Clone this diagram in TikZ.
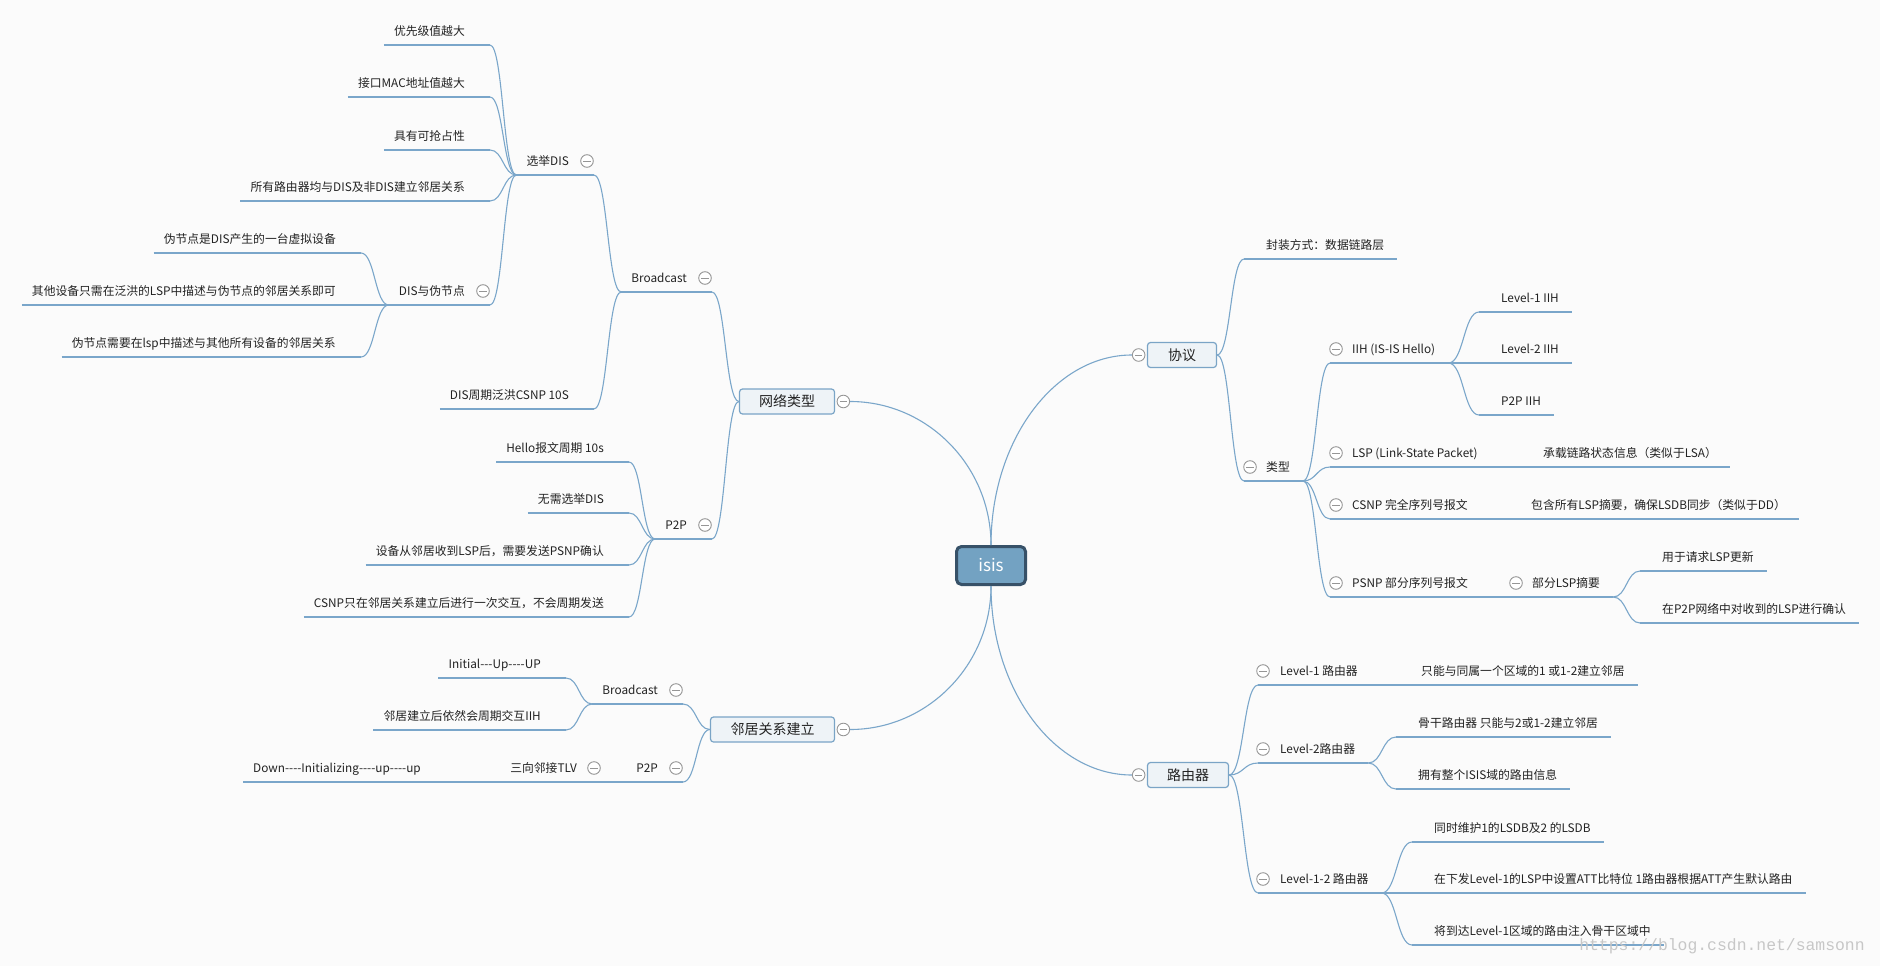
\documentclass[tikz,border=0pt]{standalone}
\usepackage{fontspec}
\newfontfamily\cnfont{Noto Sans CJK SC}
\newfontfamily\markfont{Liberation Mono}
\usetikzlibrary{calc, positioning}

\definecolor{bgc}{RGB}{251,251,251}
\definecolor{linec}{RGB}{122,166,202}
\definecolor{boxfill}{RGB}{238,243,247}
\definecolor{boxline}{RGB}{122,164,198}
\definecolor{rootfill}{RGB}{115,162,194}
\definecolor{rootline}{RGB}{55,81,104}
\definecolor{togc}{RGB}{150,150,150}
\definecolor{txt}{RGB}{34,34,34}

\begin{document}
\begin{tikzpicture}[
        x=1pt, y=-1pt,
        root/.style={
            rectangle, rounded corners=5pt, draw=rootline, line width=3pt, fill=rootfill,
            text=white, minimum width=69pt, minimum height=38pt,
            font=\cnfont\fontsize{17}{20}\selectfont
        },
        mainbox/.style={
            rectangle, rounded corners=3pt, draw=boxline, line width=1.2pt, fill=boxfill,
            text=txt, minimum height=25pt, inner sep=0pt,
            font=\cnfont\fontsize{14}{16}\selectfont
        },
        uline/.style={draw=linec, line width=1.1pt},
        topic/.style={
            inner xsep=0pt, inner ysep=6pt, text height=10pt, text depth=3pt,
            text=txt, font=\cnfont\fontsize{11.8}{14}\selectfont,
            append after command={(\tikzlastnode.south west) edge[uline] (\tikzlastnode.south east)}
        },
        ltop/.style={topic, anchor=south east,
            execute at begin node={\hspace*{10pt}}, execute at end node={\hspace*{25pt}}},
        rtop/.style={topic, anchor=south west,
            execute at begin node={\hspace*{22pt}}, execute at end node={\hspace*{13pt}}},
        tog/.style={
            circle, draw=togc, line width=0.9pt, fill=white, minimum size=12.6pt, inner sep=0pt,
            path picture={\draw[togc, line width=0.9pt]
                ([xshift=-3.6pt]path picture bounding box.center) -- ([xshift=3.6pt]path picture bounding box.center);}
        },
        link/.style={uline, to path={let \p1=(\tikztostart), \p2=(\tikztotarget) in
            .. controls ({0.5*\x1+0.5*\x2},\y1) and ({0.5*\x1+0.5*\x2},\y2) .. (\tikztotarget)}},
        trunk/.style={uline, to path={let \p1=(\tikztostart), \p2=(\tikztotarget) in
            .. controls (\x1,{\y1+0.55*(\y2-\y1)}) and ({\x2+0.55*(\x1-\x2)},\y2) .. (\tikztotarget)}},
        wmark/.style={text=black!22, font=\markfont\fontsize{16.4}{18}\selectfont, inner sep=0pt}
    ]

    \fill[bgc] (0,0) rectangle (1880,966);
    \useasboundingbox (0,0) rectangle (1880,966);

    \node [root] (isis) at (991,565.5) {isis};

    \node [mainbox, minimum width=95pt] (net) at (787,401.5) {网络类型};
    \node [mainbox, minimum width=124pt] (nbr) at (772.5,729.5) {邻居关系建立};
    \node [mainbox, minimum width=69pt] (proto) at (1182,355) {协议};
    \node [mainbox, minimum width=81pt] (rtr) at (1188,775) {路由器};

    \node [tog, right=1.5pt of net] (t-net) {};
    \node [tog, right=1.5pt of nbr] (t-nbr) {};
    \node [tog, left=1.5pt of proto] (t-proto) {};
    \node [tog, left=1.5pt of rtr] (t-rtr) {};

    % network types
    \node [ltop] (bc) at (712,292) {Broadcast};
    \node [ltop] (p2p) at (712,539) {P2P};
    \node [ltop] (sel) at (594,175) {选举DIS};
    \node [ltop] (csnp10) at (594,409) {DIS周期泛洪CSNP 10S};
    \node [ltop] (s1) at (490,45) {优先级值越大};
    \node [ltop] (s2) at (490,97) {接口MAC地址值越大};
    \node [ltop] (s3) at (490,150) {具有可抢占性};
    \node [ltop] (s4) at (490,201) {所有路由器均与DIS及非DIS建立邻居关系};
    \node [ltop] (pn) at (490,305) {DIS与伪节点};
    \node [ltop] (pn1) at (361,253) {伪节点是DIS产生的一台虚拟设备};
    \node [ltop] (pn2) at (361,305) {其他设备只需在泛洪的LSP中描述与伪节点的邻居关系即可};
    \node [ltop] (pn3) at (361,357) {伪节点需要在lsp中描述与其他所有设备的邻居关系};
    \node [ltop] (h1) at (629,462) {Hello报文周期 10s};
    \node [ltop] (h2) at (629,513) {无需选举DIS};
    \node [ltop] (h3) at (629,565) {设备从邻居收到LSP后，需要发送PSNP确认};
    \node [ltop] (h4) at (629,617) {CSNP只在邻居关系建立后进行一次交互，不会周期发送};

    % neighbour setup
    \node [ltop] (nbc) at (683,704) {Broadcast};
    \node [ltop] (nb1) at (566,678) {Initial---Up----UP};
    \node [ltop] (nb2) at (566,730) {邻居建立后依然会周期交互IIH};
    \node [ltop] (np2p) at (683,782) {P2P};
    \node [ltop] (tlv) at (602,782) {三向邻接TLV};
    \node [ltop] (down) at (446,782) {Down----Initializing----up----up};

    % protocol
    \node [rtop] (enc) at (1244,259) {封装方式：数据链路层};
    \node [rtop] (typ) at (1244,481) {类型};
    \node [rtop] (iih) at (1330,363) {IIH (IS-IS Hello)};
    \node [rtop] (lsp) at (1330,467) {LSP (Link-State Packet)};
    \node [rtop] (csnp) at (1330,519) {CSNP 完全序列号报文};
    \node [rtop] (psnp) at (1330,597) {PSNP 部分序列号报文};
    \node [rtop] (i1) at (1479,312) {Level-1 IIH};
    \node [rtop] (i2) at (1479,363) {Level-2 IIH};
    \node [rtop] (i3) at (1479,415) {P2P IIH};
    \node [rtop] (lsp1) at (1521,467) {承载链路状态信息（类似于LSA）};
    \node [rtop] (csnp1) at (1509,519) {包含所有LSP摘要，确保LSDB同步（类似于DD）};
    \node [rtop] (part) at (1510,597) {部分LSP摘要};
    \node [rtop] (pt1) at (1640,571) {用于请求LSP更新};
    \node [rtop] (pt2) at (1640,623) {在P2P网络中对收到的LSP进行确认};

    % routers
    \node [rtop] (r1) at (1258,685) {Level-1 路由器};
    \node [rtop] (r2) at (1258,763) {Level-2路由器};
    \node [rtop] (r3) at (1258,893) {Level-1-2 路由器};
    \node [rtop] (r1a) at (1399,685) {只能与同属一个区域的1 或1-2建立邻居};
    \node [rtop] (r2a) at (1396,737) {骨干路由器 只能与2或1-2建立邻居};
    \node [rtop] (r2b) at (1396,789) {拥有整个ISIS域的路由信息};
    \node [rtop] (r3a) at (1412,842) {同时维护1的LSDB及2 的LSDB};
    \node [rtop] (r3b) at (1412,893) {在下发Level-1的LSP中设置ATT比特位 1路由器根据ATT产生默认路由};
    \node [rtop] (r3c) at (1412,945) {将到达Level-1区域的路由注入骨干区域中};

    \node [tog] (t-bc) at ([xshift=-7pt,yshift=14pt]bc.south east) {};
    \node [tog] (t-p2p) at ([xshift=-7pt,yshift=14pt]p2p.south east) {};
    \node [tog] (t-sel) at ([xshift=-7pt,yshift=14pt]sel.south east) {};
    \node [tog] (t-pn) at ([xshift=-7pt,yshift=14pt]pn.south east) {};
    \node [tog] (t-nbc) at ([xshift=-7pt,yshift=14pt]nbc.south east) {};
    \node [tog] (t-np2p) at ([xshift=-7pt,yshift=14pt]np2p.south east) {};
    \node [tog] (t-tlv) at ([xshift=-8pt,yshift=14pt]tlv.south east) {};
    \node [tog] (t-typ) at ([xshift=6pt,yshift=14pt]typ.south west) {};
    \node [tog] (t-iih) at ([xshift=6pt,yshift=14pt]iih.south west) {};
    \node [tog] (t-lsp) at ([xshift=6pt,yshift=14pt]lsp.south west) {};
    \node [tog] (t-csnp) at ([xshift=6pt,yshift=14pt]csnp.south west) {};
    \node [tog] (t-psnp) at ([xshift=6pt,yshift=14pt]psnp.south west) {};
    \node [tog] (t-part) at ([xshift=6pt,yshift=14pt]part.south west) {};
    \node [tog] (t-r1) at ([xshift=5pt,yshift=14pt]r1.south west) {};
    \node [tog] (t-r2) at ([xshift=5pt,yshift=14pt]r2.south west) {};
    \node [tog] (t-r3) at ([xshift=5pt,yshift=14pt]r3.south west) {};

    \node [wmark] (wm) at (1722,946) {https://blog.csdn.net/samsonn};

    \draw [trunk] (isis.north) to (t-net.east);
    \draw [trunk] (isis.south) to (t-nbr.east);
    \draw [trunk] (isis.north) to (t-proto.west);
    \draw [trunk] (isis.south) to (t-rtr.west);

    \draw [link] (net.west) to (bc.south east);
    \draw [link] (net.west) to (p2p.south east);
    \draw [link] (bc.south west) to (sel.south east);
    \draw [link] (bc.south west) to (csnp10.south east);
    \draw [link] (sel.south west) to (s1.south east);
    \draw [link] (sel.south west) to (s2.south east);
    \draw [link] (sel.south west) to (s3.south east);
    \draw [link] (sel.south west) to (s4.south east);
    \draw [link] (sel.south west) to (pn.south east);
    \draw [link] (pn.south west) to (pn1.south east);
    \draw [link] (pn.south west) to (pn2.south east);
    \draw [link] (pn.south west) to (pn3.south east);
    \draw [link] (p2p.south west) to (h1.south east);
    \draw [link] (p2p.south west) to (h2.south east);
    \draw [link] (p2p.south west) to (h3.south east);
    \draw [link] (p2p.south west) to (h4.south east);

    \draw [link] (nbr.west) to (nbc.south east);
    \draw [link] (nbr.west) to (np2p.south east);
    \draw [link] (nbc.south west) to (nb1.south east);
    \draw [link] (nbc.south west) to (nb2.south east);
    \draw [link] (np2p.south west) to (tlv.south east);
    \draw [link] (tlv.south west) to (down.south east);

    \draw [link] (proto.east) to (enc.south west);
    \draw [link] (proto.east) to (typ.south west);
    \draw [link] (typ.south east) to (iih.south west);
    \draw [link] (typ.south east) to (lsp.south west);
    \draw [link] (typ.south east) to (csnp.south west);
    \draw [link] (typ.south east) to (psnp.south west);
    \draw [link] (iih.south east) to (i1.south west);
    \draw [link] (iih.south east) to (i2.south west);
    \draw [link] (iih.south east) to (i3.south west);
    \draw [link] (lsp.south east) to (lsp1.south west);
    \draw [link] (csnp.south east) to (csnp1.south west);
    \draw [link] (psnp.south east) to (part.south west);
    \draw [link] (part.south east) to (pt1.south west);
    \draw [link] (part.south east) to (pt2.south west);

    \draw [link] (rtr.east) to (r1.south west);
    \draw [link] (rtr.east) to (r2.south west);
    \draw [link] (rtr.east) to (r3.south west);
    \draw [link] (r1.south east) to (r1a.south west);
    \draw [link] (r2.south east) to (r2a.south west);
    \draw [link] (r2.south east) to (r2b.south west);
    \draw [link] (r3.south east) to (r3a.south west);
    \draw [link] (r3.south east) to (r3b.south west);
    \draw [link] (r3.south east) to (r3c.south west);

\end{tikzpicture}
\end{document}
